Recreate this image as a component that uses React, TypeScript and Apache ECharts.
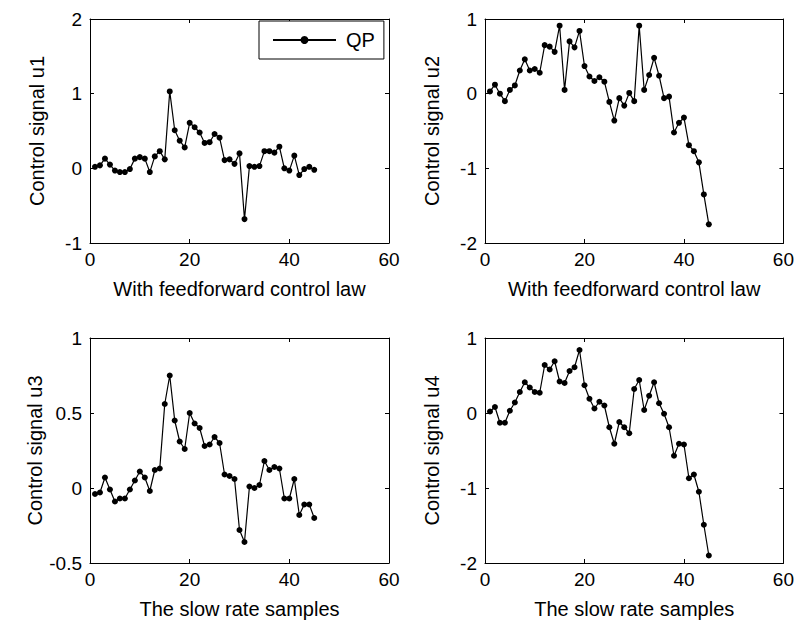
import React, { useEffect, useRef } from "react";
import * as echarts from "echarts";

// sample index k = 1..45 (slow rate samples)
const u1: number[] = [
  0.02, 0.04, 0.13, 0.05, -0.03, -0.05, -0.05, -0.01, 0.13, 0.15,
  0.13, -0.05, 0.16, 0.23, 0.12, 1.03, 0.51, 0.37, 0.28, 0.61,
  0.55, 0.48, 0.34, 0.35, 0.46, 0.41, 0.11, 0.12, 0.06, 0.2,
  -0.68, 0.03, 0.02, 0.03, 0.23, 0.23, 0.21, 0.29, 0.0, -0.03,
  0.17, -0.09, -0.01, 0.02, -0.02,
];
const u2: number[] = [
  0.03, 0.12, 0.0, -0.1, 0.05, 0.11, 0.31, 0.46, 0.31, 0.33,
  0.28, 0.65, 0.63, 0.56, 0.91, 0.05, 0.7, 0.62, 0.84, 0.37,
  0.23, 0.17, 0.22, 0.16, -0.11, -0.36, -0.06, -0.16, 0.01, -0.1,
  0.91, 0.05, 0.25, 0.48, 0.24, -0.06, -0.04, -0.52, -0.39, -0.32,
  -0.69, -0.77, -0.92, -1.35, -1.75,
];
const u3: number[] = [
  -0.04, -0.03, 0.07, -0.01, -0.09, -0.07, -0.07, -0.01, 0.05, 0.11,
  0.07, -0.02, 0.12, 0.13, 0.56, 0.75, 0.45, 0.31, 0.26, 0.5,
  0.43, 0.4, 0.28, 0.29, 0.34, 0.3, 0.09, 0.08, 0.06, -0.28,
  -0.36, 0.01, 0.0, 0.02, 0.18, 0.12, 0.14, 0.13, -0.07, -0.07,
  0.06, -0.18, -0.11, -0.11, -0.2,
];
const u4: number[] = [
  0.02, 0.08, -0.13, -0.13, 0.03, 0.14, 0.28, 0.41, 0.34, 0.28,
  0.27, 0.64, 0.58, 0.69, 0.42, 0.4, 0.56, 0.61, 0.84, 0.37,
  0.19, 0.06, 0.15, 0.1, -0.19, -0.41, -0.12, -0.19, -0.27, 0.32,
  0.44, 0.04, 0.23, 0.41, 0.13, -0.01, -0.19, -0.57, -0.41, -0.42,
  -0.87, -0.82, -1.05, -1.49, -1.9,
];

const firstSample = 1;
const yNames = ["Control signal u1", "Control signal u2", "Control signal u3", "Control signal u4"];
const xNames = [
  "With feedforward control law",
  "With feedforward control law",
  "The slow rate samples",
  "The slow rate samples",
];
const yMins = [-1, -2, -0.5, -2];
const yMaxs = [2, 1, 1, 1];
const yIntervals = [1, 1, 0.5, 1];
const xMin = 0;
const xMax = 60;
const xInterval = 20;
const seriesName = "QP";
const allSeries = [u1, u2, u3, u4];

const FONT = "'Liberation Sans', Arial, Helvetica, sans-serif";

export default function App() {
  const ref = useRef<HTMLDivElement>(null);
  useEffect(() => {
    if (!ref.current) return;
    const chart = echarts.init(ref.current, undefined, { renderer: "svg" });
    const grids = [
      { left: 90, top: 19, width: 299, height: 224 },
      { left: 485, top: 19, width: 299, height: 224 },
      { left: 90, top: 338, width: 299, height: 225 },
      { left: 485, top: 338, width: 299, height: 225 },
    ];
    const tick = { show: true, inside: true, length: 4, lineStyle: { color: "#000", width: 1 } };
    const line = { show: true, lineStyle: { color: "#000", width: 1 } };
    const xAxes: any[] = [];
    const yAxes: any[] = [];
    grids.forEach((_, i) => {
      xAxes.push({
        type: "value",
        gridIndex: i,
        position: "bottom",
        min: xMin,
        max: xMax,
        interval: xInterval,
        axisLine: { ...line, onZero: false },
        axisTick: tick,
        splitLine: { show: false },
        axisLabel: { color: "#000", fontSize: 19, fontFamily: FONT, margin: 7 },
        name: xNames[i],
        nameLocation: "middle",
        nameGap: 36,
        nameTextStyle: { color: "#000", fontSize: 20, fontFamily: FONT, verticalAlign: "top" },
      });
      xAxes.push({
        type: "value",
        gridIndex: i,
        position: "top",
        min: xMin,
        max: xMax,
        interval: xInterval,
        axisLine: { ...line, onZero: false },
        axisTick: tick,
        splitLine: { show: false },
        axisLabel: { show: false },
      });
      yAxes.push({
        type: "value",
        gridIndex: i,
        position: "left",
        min: yMins[i],
        max: yMaxs[i],
        interval: yIntervals[i],
        axisLine: { ...line, onZero: false },
        axisTick: tick,
        splitLine: { show: false },
        axisLabel: { color: "#000", fontSize: 19, fontFamily: FONT, margin: 8 },
        name: yNames[i],
        nameLocation: "middle",
        nameGap: 43,
        nameTextStyle: { color: "#000", fontSize: 20, fontFamily: FONT },
      });
      yAxes.push({
        type: "value",
        gridIndex: i,
        position: "right",
        min: yMins[i],
        max: yMaxs[i],
        interval: yIntervals[i],
        axisLine: { ...line, onZero: false },
        axisTick: tick,
        splitLine: { show: false },
        axisLabel: { show: false },
      });
    });
    const series = allSeries.map((vals, i) => ({
      name: seriesName,
      type: "line",
      xAxisIndex: i * 2,
      yAxisIndex: i * 2,
      data: vals.map((v, k) => [k + firstSample, v]),
      symbol: "circle",
      symbolSize: 6,
      showSymbol: true,
      showAllSymbol: true,
      itemStyle: { color: "#000" },
      lineStyle: { color: "#000", width: 1.2 },
      emphasis: { disabled: true },
    }));
    chart.setOption({
      animation: false,
      backgroundColor: "#fff",
      grid: grids.map((g) => ({ ...g, containLabel: false })),
      xAxis: xAxes,
      yAxis: yAxes,
      legend: {
        data: [seriesName],
        left: 259,
        top: 21,
        padding: [9, 9, 9, 13],
        itemWidth: 63,
        itemHeight: 10,
        borderColor: "#000",
        borderWidth: 1,
        borderRadius: 0,
        backgroundColor: "#fff",
        textStyle: { color: "#000", fontSize: 20, fontFamily: FONT, padding: [0, 0, 0, 5] },
      },
      series,
    });
    return () => chart.dispose();
  }, []);
  return (
    <div
      ref={ref}
      style={{ position: "fixed", left: 0, top: 0, width: 797, height: 629, background: "#fff" }}
    />
  );
}
